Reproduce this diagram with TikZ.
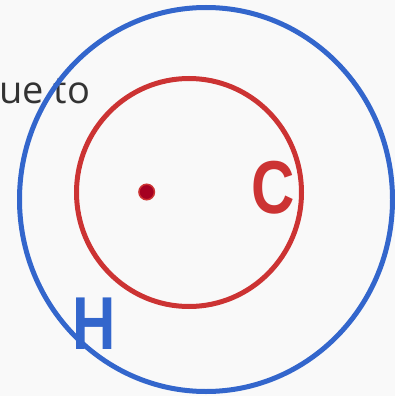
\documentclass[tikz,border=0pt]{standalone}
\usepackage{fontspec}
\setmainfont{Liberation Sans}
\newfontfamily\wordsfont{Open Sans}
\usetikzlibrary{positioning}
\definecolor{hblue}{HTML}{3366CC}
\definecolor{cred}{HTML}{CC3333}
\definecolor{dotred}{HTML}{A50021}
\definecolor{bgray}{HTML}{F9F9F9}
\definecolor{tgray}{HTML}{333333}

\begin{document}
\begin{tikzpicture}[
  x=1pt, y=-1pt,
  ring/.style={draw, line width=5pt},
  letter/.style={font=\fontsize{75}{75}\selectfont\bfseries, inner sep=0pt, anchor=base}
]
\useasboundingbox (0,0) rectangle (395,396);
\fill[bgray] (0,0) rectangle (395,396);

\node[font=\wordsfont\fontsize{38}{38}\selectfont, text=tgray, inner sep=0pt, anchor=base east] (words) at (90.5,103.5) {ue to};

% the two rings
\draw[ring, hblue] (206,199.5) ellipse [x radius=186.5, y radius=192];
\draw[ring, cred] (189,192.5) ellipse [x radius=112.5, y radius=114];
\node[circle, fill=dotred, draw=cred, line width=1.5pt, minimum size=15.5pt, inner sep=0pt] (centre) at (146.7,192) {};

\node[letter, text=cred] (clabel) at (273,213.5) {\scalebox{0.8}[1]{C}};
\node[letter, text=hblue] (hlabel) at (94,349) {\scalebox{0.8}[1]{H}};
\end{tikzpicture}
\end{document}
